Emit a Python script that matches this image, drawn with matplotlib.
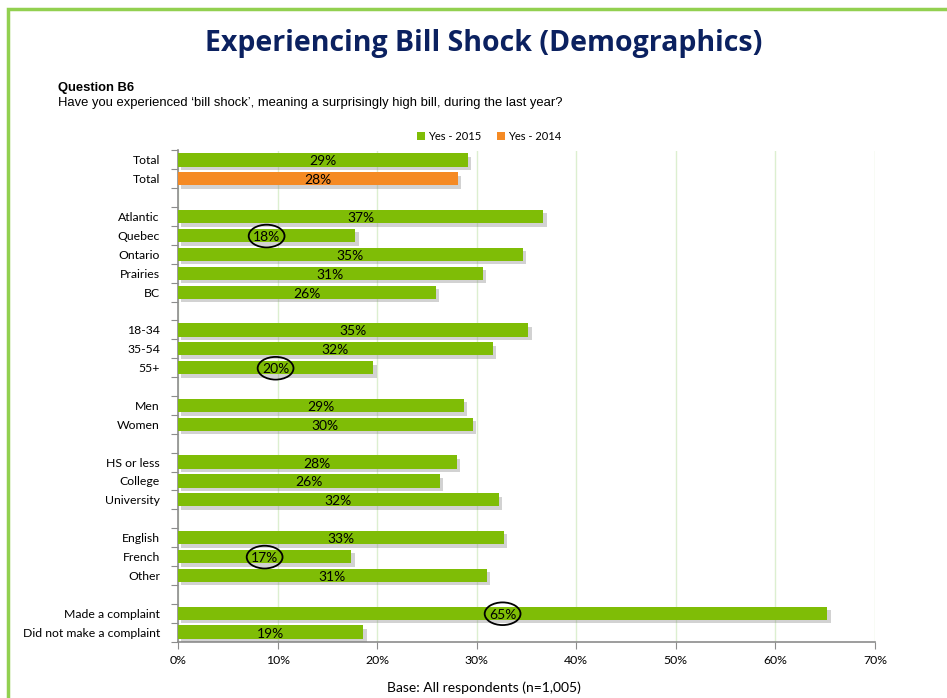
import matplotlib
matplotlib.use("Agg")
import matplotlib.pyplot as plt
import matplotlib.patheffects as pe
from matplotlib.patches import Ellipse, Rectangle, Patch
import numpy as np

# Row labels, top to bottom ("" marks a spacer row between groups)
categories = ["Total", "Total", "",
              "Atlantic", "Quebec", "Ontario", "Prairies", "BC", "",
              "18-34", "35-54", "55+", "",
              "Men", "Women", "",
              "HS or less", "College", "University", "",
              "English", "French", "Other", "",
              "Made a complaint", "Did not make a complaint"]

# Share answering "yes" (%), 2015 wave
yes_2015 = [29.1, None, None,
            36.7, 17.8, 34.6, 30.6, 25.9, None,
            35.2, 31.6, 19.6, None,
            28.7, 29.6, None,
            28.0, 26.3, 32.2, None,
            32.7, 17.4, 31.0, None,
            65.2, 18.6]

# 2014 wave, total only
yes_2014 = [None, 28.1] + [None] * 24

# Rows whose value label is circled
circled = ["Quebec", "55+", "French", "Made a complaint"]

x_ticks = [0, 10, 20, 30, 40, 50, 60, 70]

GREEN = "#7fbd06"
ORANGE = "#f58a24"
FRAME = "#92d050"
GRID = "#dcefd0"
AXIS = "#8c8c8c"

W, H = 947, 698
fig = plt.figure(figsize=(W / 100, H / 100), dpi=100)

# Slide frame
fig.patches.append(Rectangle((8 / W, -0.05), 1.2, 1 - 9 / H + 0.05,
                             transform=fig.transFigure, fill=False,
                             edgecolor=FRAME, linewidth=2.5))

fig.text(484 / W, 1 - 43 / H, "Experiencing Bill Shock (Demographics)",
         ha="center", va="center", fontsize=20.5, fontweight="bold",
         color="#0b2160", family="Open Sans")
fig.text(58 / W, 1 - 88 / H, "Question B6", ha="left", va="center",
         fontsize=9.4, fontweight="bold", family="Liberation Sans")
fig.text(58 / W, 1 - 103 / H,
         "Have you experienced \u2018bill shock\u2019, meaning a surprisingly high bill, during the last year?",
         ha="left", va="center", fontsize=9.4, family="Liberation Sans")
fig.text(484 / W, 1 - 688 / H, "Base: All respondents (n=1,005)",
         ha="center", va="center", fontsize=10, family="Lato")

ax = fig.add_axes([178 / W, 1 - 641.5 / H, (875 - 178) / W, (641.5 - 150.5) / H])

n = len(categories)
ypos = np.arange(n)
shadow = [pe.SimplePatchShadow(offset=(2.5, -2.5), shadow_rgbFace="#808080", alpha=0.35),
          pe.Normal()]

v15 = [np.nan if v is None else v for v in yes_2015]
v14 = [np.nan if v is None else v for v in yes_2014]
b15 = ax.barh(ypos, v15, height=0.7, color=GREEN, zorder=3)
b14 = ax.barh(ypos, v14, height=0.7, color=ORANGE, zorder=3)
for b in list(b15) + list(b14):
    b.set_path_effects(shadow)

for i, (cat, a, b) in enumerate(zip(categories, yes_2015, yes_2014)):
    val = a if a is not None else b
    if val is None:
        continue
    ax.text(val / 2, i + 0.08, f"{round(val)}%", ha="center", va="center",
            fontsize=10, family="Lato", zorder=5)
    if cat in circled:
        ax.add_patch(Ellipse((val / 2, i + 0.03), 3.6, 1.2, fill=False,
                             edgecolor="black", linewidth=1.3, zorder=6))

ax.set_xlim(0, 70)
ax.set_ylim(n - 0.5, -0.5)
ax.set_xticks(x_ticks)
ax.set_xticklabels([f"{t}%" for t in x_ticks], family="Lato", fontsize=8.8)
ax.set_yticks(np.arange(-0.5, n, 1.0))
ax.set_yticklabels([])
ax.set_yticks(ypos, minor=True)
ax.set_yticklabels(categories, minor=True, family="Lato", fontsize=8.8)
ax.tick_params(axis="y", which="minor", length=0, pad=13)
ax.tick_params(axis="y", which="major", length=5, color=AXIS)
ax.tick_params(axis="x", length=5, color=AXIS, pad=5)

ax.grid(axis="x", color=GRID, linewidth=1, zorder=0)
ax.set_axisbelow(True)
for s in ["top", "right"]:
    ax.spines[s].set_visible(False)
for s in ["left", "bottom"]:
    ax.spines[s].set_color(AXIS)
    ax.spines[s].set_linewidth(1.2)

handles = [Patch(facecolor=GREEN, label="Yes - 2015"),
           Patch(facecolor=ORANGE, label="Yes - 2014")]
fig.legend(handles=handles, loc="center", bbox_to_anchor=(489 / W, 1 - 136 / H),
           ncol=2, frameon=False, prop={"family": "Lato", "size": 8},
           handlelength=0.7, handleheight=0.7, handletextpad=0.3,
           columnspacing=1.4)

fig.savefig("out.png", dpi=100)
